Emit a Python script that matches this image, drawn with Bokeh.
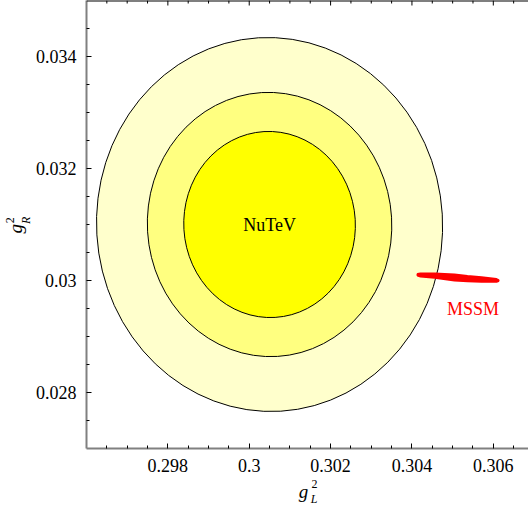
import math
from bokeh.plotting import figure
from bokeh.layouts import row, column
from bokeh.models import Range1d, FixedTicker, LinearAxis, Span, ColumnDataSource
from bokeh.core.properties import value
from bokeh.embed import file_html
from bokeh.resources import INLINE

# ---------------- data ----------------
cl_levels = ["99% CL", "90% CL", "68% CL"]
center_gL2 = [0.3005, 0.3005, 0.3005]
center_gR2 = [0.0310, 0.0310, 0.0310]
width_gL2 = [0.008506, 0.006008, 0.004218]
height_gR2 = [0.006680, 0.004720, 0.003326]
fill_colors = ["#ffffcc", "#ffff80", "#ffff00"]
tilt = 0.06

# MSSM region outline (upper edge left->right, lower edge right->left)
mssm_gL2 = [0.304137, 0.304210, 0.304555, 0.305046, 0.305366, 0.305710, 0.306079, 0.306128,
            0.306128, 0.306079, 0.305710, 0.305366, 0.305046, 0.304555, 0.304210, 0.304137]
mssm_gR2 = [0.030115, 0.030127, 0.030127, 0.030106, 0.030082, 0.030057, 0.030025, 0.030007,
            0.029989, 0.029977, 0.029977, 0.029986, 0.029998, 0.030047, 0.030070, 0.030088]

x_ticks = [0.298, 0.300, 0.302, 0.304, 0.306]
x_tick_labels = ["0.298", "0.3", "0.302", "0.304", "0.306"]
x_minor = [0.2965, 0.297, 0.2975, 0.2985, 0.299, 0.2995, 0.3005, 0.301, 0.3015,
           0.3025, 0.303, 0.3035, 0.3045, 0.305, 0.3055, 0.3065]
y_ticks = [0.028, 0.030, 0.032, 0.034]
y_tick_labels = ["0.028", "0.03", "0.032", "0.034"]
y_minor = [0.0275, 0.0285, 0.029, 0.0295, 0.0305, 0.031, 0.0315,
           0.0325, 0.033, 0.0335, 0.0345]

X0, X1 = 0.296, 0.306865
Y0, Y1 = 0.027, 0.035

FONT = "Liberation Serif"

LEFT_W = 32
MAIN_W = 496
FRAME_H = 448
MAIN_H = 478
BOTTOM_H = 28
TOTAL_H = MAIN_H + BOTTOM_H

p = figure(width=MAIN_W, height=MAIN_H, output_backend="svg", toolbar_location=None,
           x_range=Range1d(X0, X1), y_range=Range1d(Y0, Y1),
           min_border_left=86 - LEFT_W, min_border_right=0, min_border_top=0,
           min_border_bottom=MAIN_H - FRAME_H,
           x_axis_type=None, y_axis_type=None)
p.outline_line_color = None
p.background_fill_color = "white"
p.border_fill_color = "white"

src = ColumnDataSource(dict(x=center_gL2, y=center_gR2, w=width_gL2, h=height_gR2,
                            c=fill_colors, lvl=cl_levels))
p.ellipse(x="x", y="y", width="w", height="h", angle=tilt, fill_color="c",
          line_color="black", line_width=1, source=src)

p.patch(mssm_gL2, mssm_gR2, fill_color="#ff0000", line_color="#ff0000", line_width=2)

p.text(x=[center_gL2[0]], y=[center_gR2[0]], text=["NuTeV"], text_font=value(FONT),
       text_font_size="18px", text_align="center", text_baseline="middle", text_color="black")
p.text(x=[0.3055], y=[0.0295], text=["MSSM"], text_font=value(FONT),
       text_font_size="18px", text_align="center", text_baseline="middle", text_color="#ff0000")

# top frame line with inward ticks
p.add_layout(Span(location=Y1, dimension="width", line_color="black", line_width=2))
px_y = (Y1 - Y0) / FRAME_H
p.segment(x0=x_ticks, y0=[Y1] * len(x_ticks), x1=x_ticks, y1=[Y1 - 5 * px_y] * len(x_ticks),
          line_color="black", line_width=1)
p.segment(x0=x_minor, y0=[Y1] * len(x_minor), x1=x_minor, y1=[Y1 - 3 * px_y] * len(x_minor),
          line_color="black", line_width=1)


def style(ax, ticks, minor, labels):
    ax.ticker = FixedTicker(ticks=ticks, minor_ticks=minor)
    ax.major_label_overrides = {t: l for t, l in zip(ticks, labels)}
    ax.axis_line_color = "#808080"
    ax.axis_line_width = 2
    ax.major_tick_in = 5
    ax.major_tick_out = 0
    ax.minor_tick_in = 3
    ax.minor_tick_out = 0
    ax.major_tick_line_color = "black"
    ax.minor_tick_line_color = "black"
    ax.major_label_text_font = FONT
    ax.major_label_text_font_size = "18px"
    ax.major_label_text_color = "black"


xax = LinearAxis()
style(xax, x_ticks, x_minor, x_tick_labels)
xax.major_label_standoff = 10
p.add_layout(xax, "below")

yax = LinearAxis()
style(yax, y_ticks, y_minor, y_tick_labels)
yax.major_label_standoff = 10
p.add_layout(yax, "left")


def blank(w, h):
    f = figure(width=w, height=h, output_backend="svg", toolbar_location=None,
               x_range=Range1d(0, w), y_range=Range1d(0, h), min_border=0,
               x_axis_type=None, y_axis_type=None)
    f.outline_line_color = None
    f.background_fill_color = "white"
    f.border_fill_color = "white"
    return f


def piece(f, x, y, t, size, italic, angle=0.0):
    f.text(x=[x], y=[y], text=[t], text_font=value(FONT), text_font_size=size,
           text_font_style="italic" if italic else "normal", text_align="center",
           text_baseline="middle", angle=angle, text_color="black")


# left title g_R^2 (rotated); centres in page pixels (empirically corrected)
left = blank(LEFT_W, MAIN_H)
piece(left, 14.8, MAIN_H - 243.5, "g", "19px", True, math.pi / 2)
piece(left, 9.3, MAIN_H - 234.5, "2", "12px", False, math.pi / 2)
piece(left, 25.0, MAIN_H - 234.5, "R", "12px", True, math.pi / 2)

# bottom title g_L^2; centres in page pixels (figure starts at MAIN_H)
bottom = blank(LEFT_W + MAIN_W, BOTTOM_H)
piece(bottom, 303.0, TOTAL_H - 490.5, "g", "19px", True)
piece(bottom, 314.0, TOTAL_H - 483.7, "2", "12px", False)
piece(bottom, 313.5, TOTAL_H - 498.0, "L", "12px", True)

layout = column(row(left, p), bottom)

open("out.html", "w").write(file_html(layout, INLINE))
